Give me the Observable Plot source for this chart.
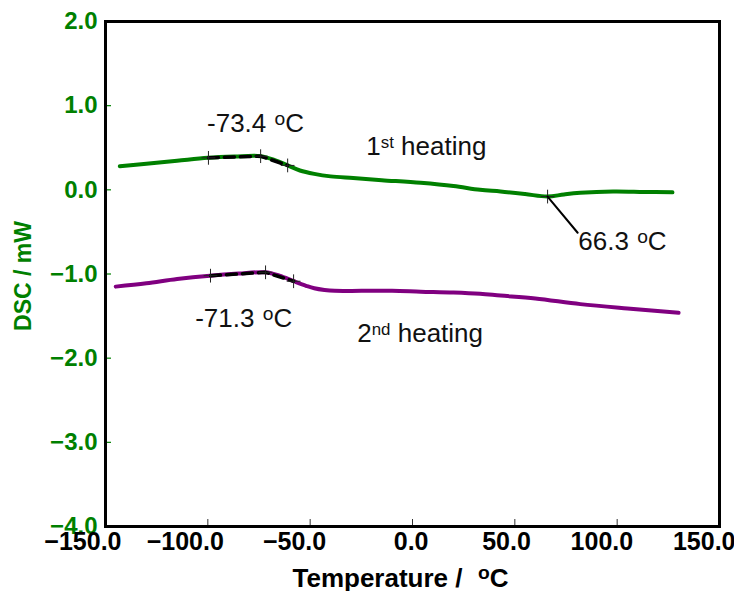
<!DOCTYPE html>
<html>
<head>
<meta charset="utf-8">
<script src="https://cdn.jsdelivr.net/npm/d3@7"></script>
<script src="https://cdn.jsdelivr.net/npm/@observablehq/plot@0.6"></script>
<style>
  html, body { margin: 0; padding: 0; background: #fff; }
  #chart { width: 734px; height: 591px; overflow: hidden; }
</style>
</head>
<body>
<div id="chart"></div>
<script>
// ---- Axis ticks ----
const xTicks = [-150, -100, -50, 0, 50, 100, 150];
const xInnerTicks = [-100, -50, 0, 50, 100];
const yTicks = [2, 1, 0, -1, -2, -3, -4];

// ---- 1st heating (green) ----
const heat1Temp = [-143, -130, -115, -100, -87, -74, -67, -61, -55, -48, -40, -29, -15, 4, 20, 33, 43, 55, 66, 74, 82, 98, 113, 127];
const heat1DSC  = [0.28, 0.31, 0.345, 0.38, 0.395, 0.40, 0.35, 0.29, 0.23, 0.19, 0.16, 0.14, 0.115, 0.083, 0.045, 0.0, -0.02, -0.05, -0.08, -0.055, -0.036, -0.02, -0.025, -0.03];

// ---- 2nd heating (purple) ----
const heat2Temp = [-145, -130, -115, -99, -85, -72, -65, -58, -52, -48, -43, -38, -25, -10, 4, 20, 33, 43, 60, 82, 105, 130];
const heat2DSC  = [-1.15, -1.11, -1.06, -1.02, -0.995, -0.98, -1.02, -1.086, -1.14, -1.17, -1.19, -1.20, -1.20, -1.20, -1.21, -1.22, -1.235, -1.256, -1.29, -1.358, -1.41, -1.46];

// ---- Tg onset tangent constructions ----
const tan1Temp = [-99.7, -74.2, -61];
const tan1DSC  = [0.38, 0.40, 0.29];
const tan2Temp = [-98.7, -71.8, -58.1];
const tan2DSC  = [-1.02, -0.98, -1.086];

// ---- 66.3 °C leader ----
const leaderTemp = [66, 80.7];
const leaderDSC  = [-0.08, -0.51];

// ---- Annotation labels ----
const labelText = ["-73.4 ^{o}C", "1^{st} heating", "66.3 ^{o}C", "-71.3 ^{o}C", "2^{nd} heating"];
const labelTemp = [-100.4, -22.6, 81.0, -106.2, -27.0];
const labelDSC  = [0.79, 0.51, -0.62, -1.53, -1.71];

const xTitle = "Temperature /\u00a0\u00a0^{o}C";
const yTitle = "DSC / mW";

const GREEN = "#008000";
const PURPLE = "#800080";
const fmt = d3.format(".1f");
const tickFont = "'Liberation Sans', Arial, sans-serif";

const zip = (xs, ys) => xs.map((x, i) => ({x, y: ys[i]}));
const heat1 = zip(heat1Temp, heat1DSC);
const heat2 = zip(heat2Temp, heat2DSC);
const tan1 = zip(tan1Temp, tan1DSC);
const tan2 = zip(tan2Temp, tan2DSC);
const leader = zip(leaderTemp, leaderDSC);
const labels = labelText.map((t, i) => ({t, x: labelTemp[i], y: labelDSC[i]}));

const marginLeft = 105, marginRight = 15, marginTop = 21, marginBottom = 65;
const W = 734, H = 591;
const innerW = W - marginLeft - marginRight;
const innerH = H - marginTop - marginBottom;

const chart = Plot.plot({
  width: W,
  height: H,
  marginLeft, marginRight, marginTop, marginBottom,
  style: {background: "#fff", fontFamily: "'Liberation Sans', Arial, sans-serif"},
  x: {domain: [-150, 150], axis: null},
  y: {domain: [-4, 2], axis: null},
  marks: [
    // inward ticks
    Plot.tickY(yTicks, {y: d => d, stroke: GREEN, strokeWidth: 1.2, insetRight: innerW - 6}),
    Plot.tickX(xInnerTicks, {x: d => d, stroke: "#333", strokeWidth: 1, insetTop: innerH - 7}),
    // curves
    Plot.line(heat1, {x: "x", y: "y", stroke: GREEN, strokeWidth: 4, curve: "catmull-rom"}),
    Plot.line(heat2, {x: "x", y: "y", stroke: PURPLE, strokeWidth: 4, curve: "catmull-rom"}),
    // tangent constructions
    Plot.line(tan1, {x: "x", y: "y", stroke: "#000", strokeWidth: 3.5, strokeDasharray: "10,6"}),
    Plot.line(tan2, {x: "x", y: "y", stroke: "#000", strokeWidth: 3.5, strokeDasharray: "10,6"}),
    Plot.dot([...tan1, ...tan2, leader[0]], {x: "x", y: "y", symbol: "plus", r: 4.5, stroke: "#222", strokeWidth: 1}),
    Plot.line(leader, {x: "x", y: "y", stroke: "#000", strokeWidth: 2}),
    // annotation text
    Plot.text(labels, {x: "x", y: "y", text: "t", textAnchor: "start", fontSize: 26, fill: "#111"}),
    // frame
    Plot.frame({stroke: "#000", strokeWidth: 3}),
    // y tick labels
    Plot.text(yTicks, {frameAnchor: "left", y: d => d, text: d => fmt(d), textAnchor: "end", dx: -8,
      fill: GREEN, fontSize: 24, fontWeight: "bold", fontFamily: tickFont}),
    // x tick labels
    Plot.text(xTicks, {frameAnchor: "bottom", x: d => d, text: d => fmt(d), textAnchor: "end", dx: 16, dy: 23,
      fill: "#000", fontSize: 25, fontWeight: "bold", fontFamily: tickFont}),
    // axis titles
    Plot.text([yTitle], {frameAnchor: "left", text: d => d, rotate: -90, textAnchor: "middle", dx: -82, dy: 2,
      fill: GREEN, fontSize: 23, fontWeight: "bold"}),
    Plot.text([xTitle], {frameAnchor: "bottom", text: d => d, textAnchor: "middle", dx: -12, dy: 60,
      fill: "#000", fontSize: 26, fontWeight: "bold", fontFamily: tickFont})
  ]
});

document.getElementById("chart").appendChild(chart);

// turn ^{...} markers into superscript tspans
chart.querySelectorAll("text").forEach(t => {
  const s = t.textContent;
  if (!s.includes("^{")) return;
  const fs = parseFloat(getComputedStyle(t).fontSize) || 24;
  const parts = s.split(/(\^\{[^}]*\})/).filter(p => p.length);
  while (t.firstChild) t.removeChild(t.firstChild);
  const ns = "http://www.w3.org/2000/svg";
  let shifted = 0;
  parts.forEach(p => {
    const ts = document.createElementNS(ns, "tspan");
    const m = p.match(/^\^\{([^}]*)\}$/);
    if (m) {
      const isDeg = m[1] === "o";
      const size = fs * (isDeg ? 0.74 : 0.65);
      const shift = fs * (isDeg ? 0.27 : 0.28);
      ts.setAttribute("font-size", size);
      ts.setAttribute("dy", -shift - shifted);
      if (isDeg) ts.setAttribute("dx", fs * 0.04);
      shifted = -shift;
      ts.textContent = m[1];
    } else {
      if (shifted) ts.setAttribute("dy", -shifted);
      shifted = 0;
      ts.textContent = p;
    }
    t.appendChild(ts);
  });
});
</script>
</body>
</html>
